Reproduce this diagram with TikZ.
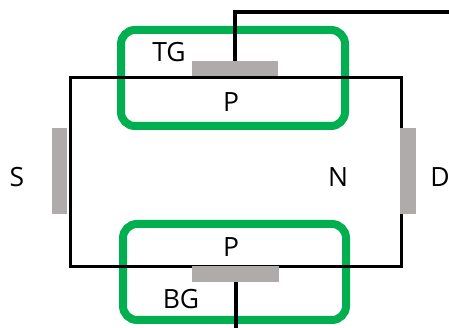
\documentclass[tikz,border=0pt]{standalone}
\usepackage{fontspec}
\setmainfont{Open Sans}
\usetikzlibrary{calc}
\definecolor{wellgreen}{HTML}{00B050}
\definecolor{contactgray}{HTML}{AFABAB}
\tikzset{
    well/.style={draw=wellgreen,line width=8pt,rounded corners=14pt},
    channel/.style={draw=black,line width=3pt,line join=miter},
    wire/.style={draw=black,line width=4pt,line join=miter},
    contact/.style={fill=contactgray,draw=none,inner sep=0pt,outer sep=0pt},
    label/.style={inner sep=0pt,font=\fontsize{26.5}{31}\selectfont},
}
\begin{document}
\begin{tikzpicture}[x=1pt,y=1pt]
    \useasboundingbox (0,0) rectangle (449,328);
    % Important coordinates are defined
    \coordinate (chan_1) at (70,250);
    \coordinate (chan_2) at (401,61);
    \coordinate (tg_turn) at (235,316);
    \coordinate (tg_end) at (449,316);
    \coordinate (bg_end) at (236,0);

    \draw[well] (121,298) rectangle (345,202);
    \draw[well] (123,104) rectangle (346,8);

    \node[contact,minimum width=86pt,minimum height=17pt] (tg) at (235,258.5) {};
    \draw[channel] (chan_1) rectangle (chan_2);
    \node[contact,minimum width=87pt,minimum height=16pt] (bg) at (235.5,54) {};
    \node[contact,minimum width=15pt,minimum height=86pt] (source) at (59.5,157) {};
    \node[contact,minimum width=16pt,minimum height=86pt] (drain) at (408,157) {};

    \draw[wire] (tg.north) -- (tg_turn |- tg_end) -- (tg_end);
    \draw[wire] (bg_end |- bg.south) -- (bg_end);

    \node[label] (tg_label) at (169,276) {TG};
    \node[label] (p_top) at (231,226) {P};
    \node[label] (p_bot) at (231,81) {P};
    \node[label] (bg_label) at (181,29) {BG};
    \node[label] (s_label) at (17,151) {S};
    \node[label] (n_label) at (338,151) {N};
    \node[label] (d_label) at (440,151) {D};
\end{tikzpicture}
\end{document}
